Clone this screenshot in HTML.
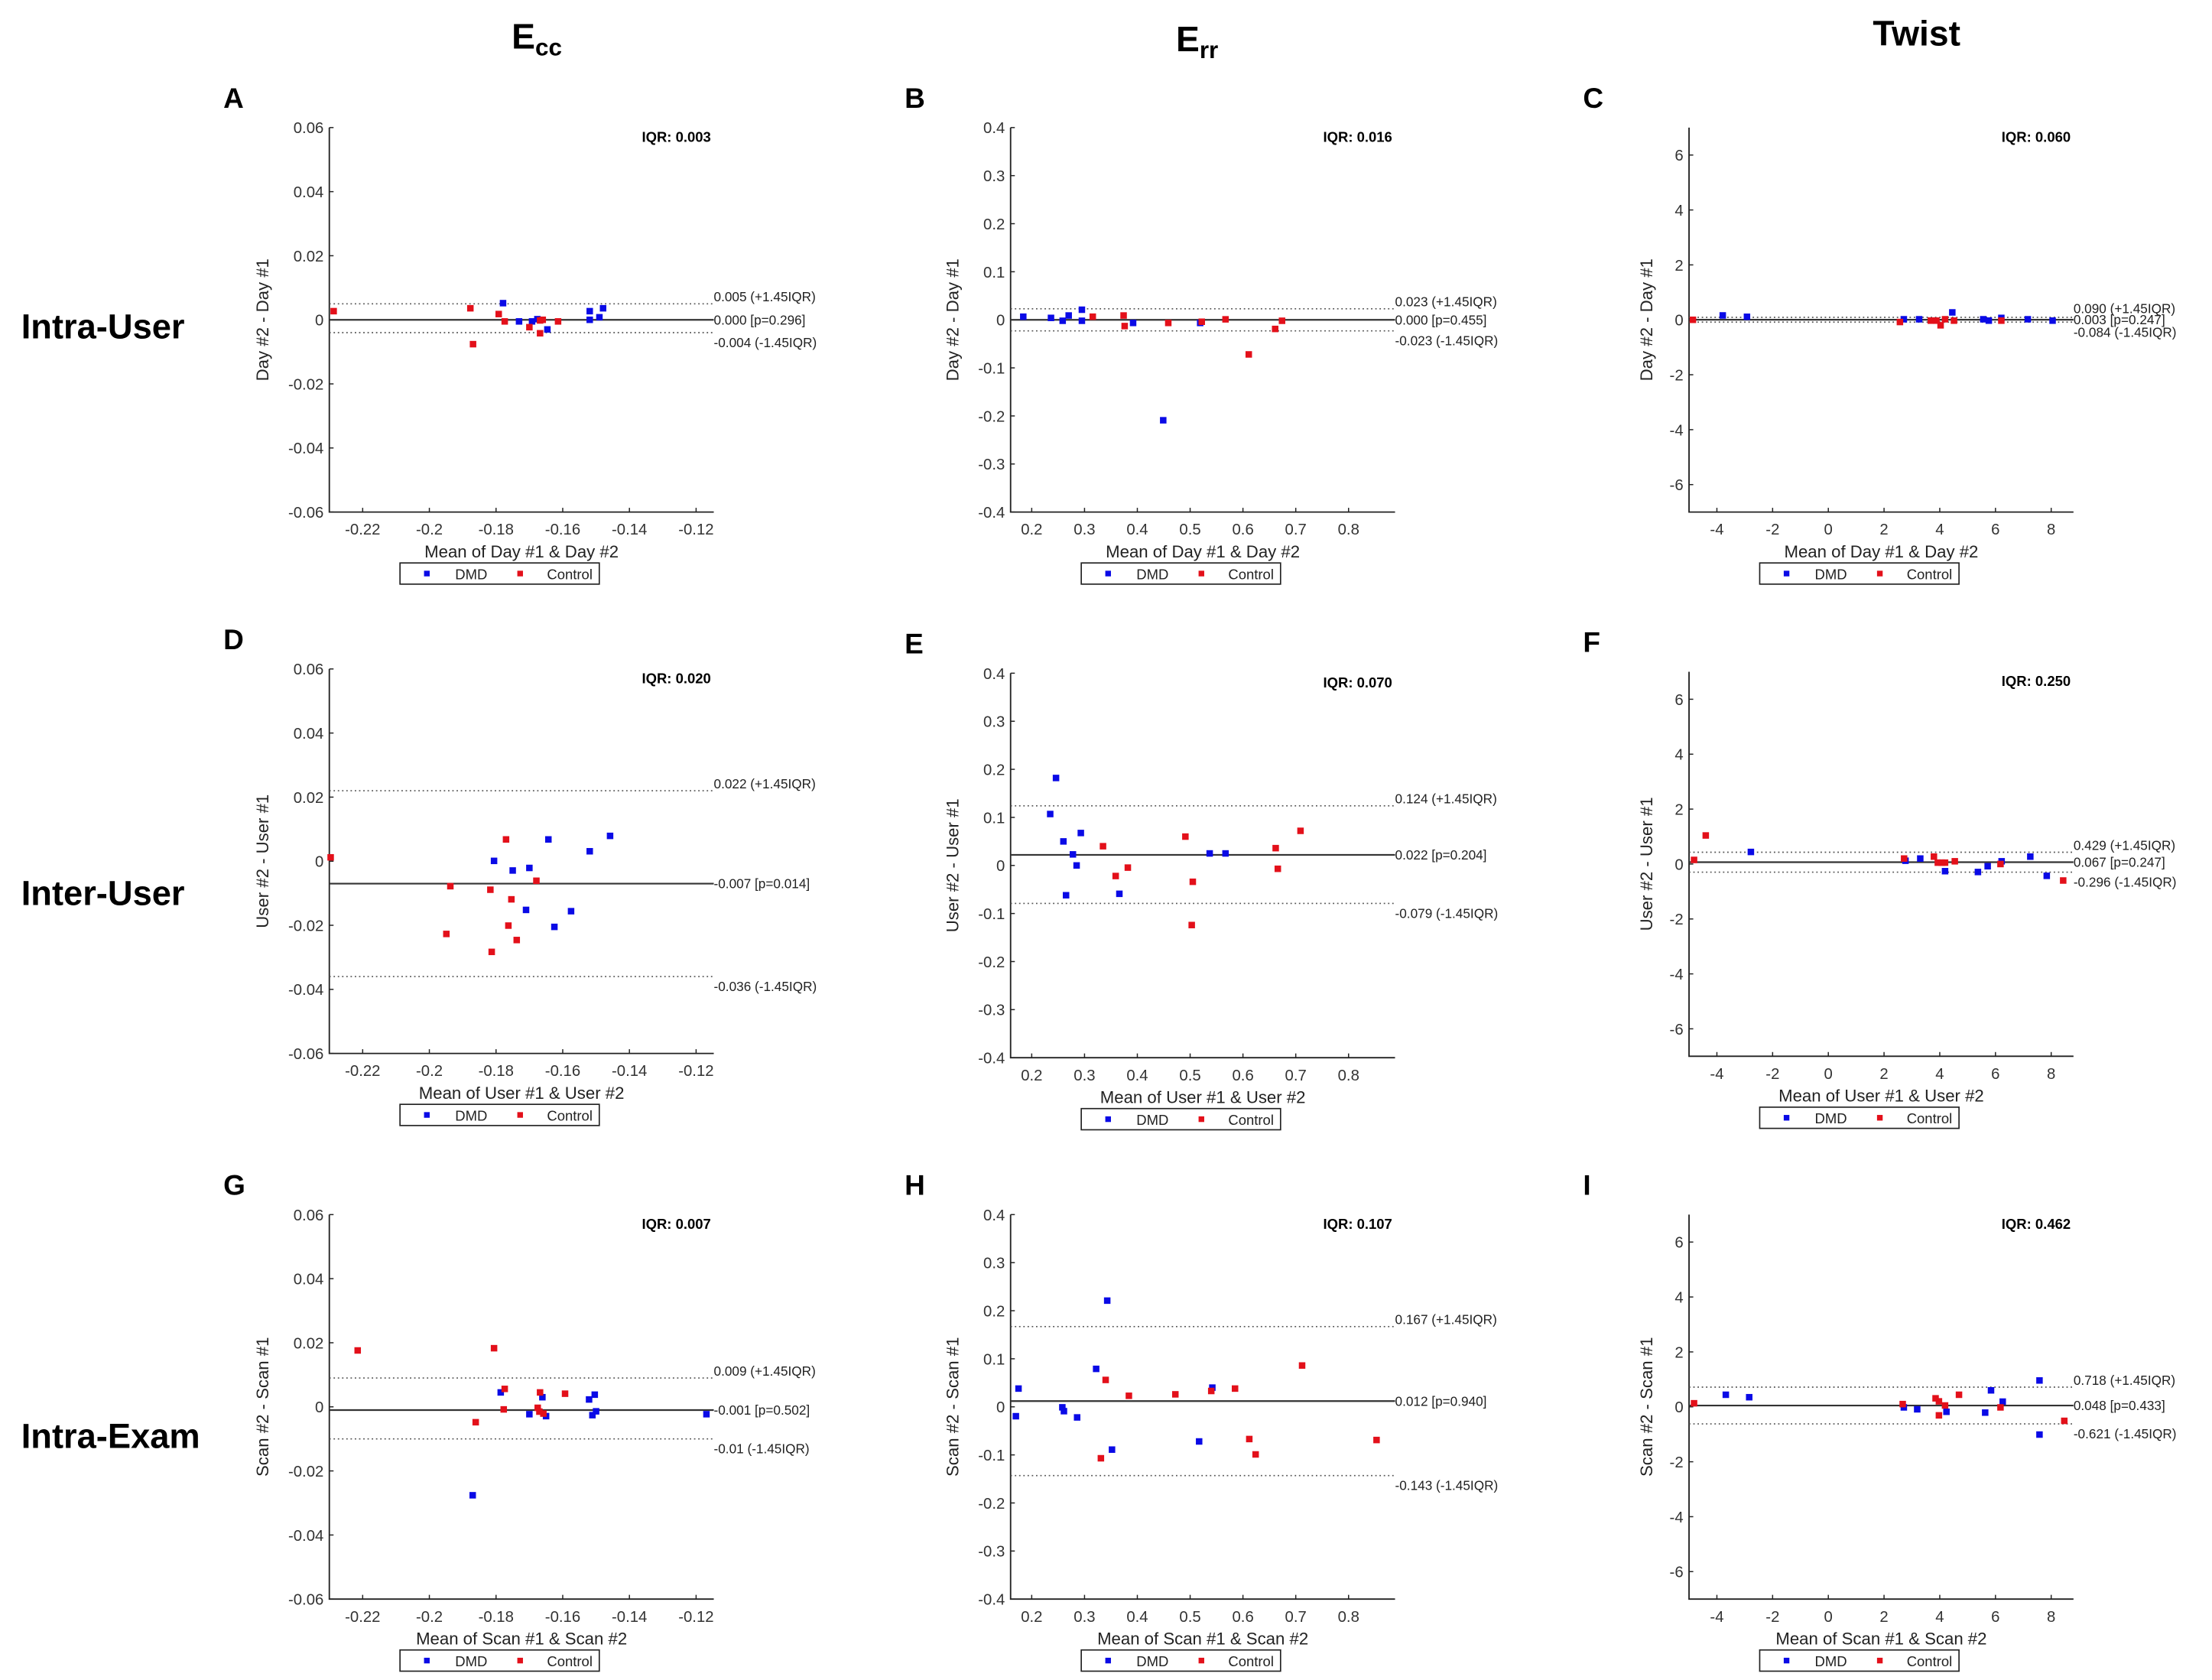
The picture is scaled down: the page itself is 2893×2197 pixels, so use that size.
<!DOCTYPE html>
<html><head><meta charset="utf-8"><style>
html,body{margin:0;padding:0;background:#fff}
svg{display:block}
text{font-family:"Liberation Sans",Arial,sans-serif}
</style></head><body>
<svg id="fig" xmlns="http://www.w3.org/2000/svg" width="2893" height="2197" viewBox="0 0 1565 1188">
<rect x="0" y="0" width="1565" height="1188" fill="#fff"/>
<g font-weight="bold" fill="#000">
<text x="362" y="34" font-size="25">E<tspan font-size="17" dy="5">cc</tspan></text>
<text x="832" y="36" font-size="25">E<tspan font-size="17" dy="5">rr</tspan></text>
<text x="1356" y="32" font-size="25" text-anchor="middle">Twist</text>
<text x="15" y="239" font-size="24.5">Intra-User</text>
<text x="15" y="640" font-size="24.5">Inter-User</text>
<text x="15" y="1024" font-size="24.5">Intra-Exam</text>
</g>
</svg>
<script>
// ---- data ----
const A_dmd_x=[-0.1779,-0.1731,-0.1692,-0.1676,-0.1646,-0.1519,-0.1519,-0.149,-0.1479];
const A_dmd_y=[0.0052,-0.0005,-0.0005,0.0002,-0.003,0.0027,0,0.0008,0.0036];
const A_ctl_x=[-0.2287,-0.1877,-0.1869,-0.1792,-0.1774,-0.17,-0.1668,-0.1668,-0.166,-0.1614];
const A_ctl_y=[0.0027,0.0036,-0.0076,0.0018,-0.0005,-0.0023,-0.0042,-0.0002,0,-0.0005];
const A_lines=[0.005,0,-0.004];
const A_labels=["0.005 (+1.45IQR)","0.000 [p=0.296]","-0.004 (-1.45IQR)"];

const B_dmd_x=[0.184,0.2365,0.2586,0.270,0.295,0.295,0.392,0.449,0.519];
const B_dmd_y=[0.0065,0.004,-0.002,0.009,0.021,-0.002,-0.0065,-0.209,-0.0065];
const B_ctl_x=[0.3156,0.374,0.376,0.4586,0.522,0.567,0.611,0.661,0.674];
const B_ctl_y=[0.0065,0.009,-0.013,-0.0065,-0.004,0.001,-0.072,-0.019,-0.002];
const B_lines=[0.023,0,-0.023];
const B_labels=["0.023 (+1.45IQR)","0.000 [p=0.455]","-0.023 (-1.45IQR)"];

const C_dmd_x=[-3.79,-2.92,2.71,3.26,4.45,5.56,5.76,6.21,7.16,8.05];
const C_dmd_y=[0.16,0.11,0.02,0.02,0.27,0.02,-0.03,0.07,0.02,-0.03];
const C_ctl_x=[-4.86,2.57,3.68,3.88,4.03,4.19,4.51,6.21];
const C_ctl_y=[0,-0.08,-0.03,-0.03,-0.2,0.02,-0.03,-0.03];
const C_lines=[0.090,0.003,-0.084];
const C_labels=["0.090 (+1.45IQR)","0.003 [p=0.247]","-0.084 (-1.45IQR)"];

const D_dmd_x=[-0.1643,-0.1458,-0.1519,-0.1806,-0.175,-0.17,-0.171,-0.1575,-0.1625];
const D_dmd_y=[0.0068,0.0079,0.0031,0.0001,-0.0029,-0.0021,-0.0152,-0.0156,-0.0205];
const D_ctl_x=[-0.2296,-0.177,-0.1679,-0.1937,-0.1817,-0.1754,-0.1763,-0.1949,-0.1738,-0.1813];
const D_ctl_y=[0.0012,0.0068,-0.0061,-0.0078,-0.0089,-0.0119,-0.0201,-0.0227,-0.0246,-0.0283];
const D_lines=[0.022,-0.007,-0.036];
const D_labels=["0.022 (+1.45IQR)","-0.007 [p=0.014]","-0.036 (-1.45IQR)"];

const E_dmd_x=[0.246,0.235,0.293,0.26,0.278,0.285,0.265,0.366,0.537,0.567];
const E_dmd_y=[0.182,0.107,0.0675,0.05,0.023,0,-0.062,-0.059,0.025,0.025];
const E_ctl_x=[0.335,0.359,0.382,0.491,0.505,0.503,0.662,0.666,0.709];
const E_ctl_y=[0.040,-0.022,-0.0045,0.06,-0.034,-0.124,0.036,-0.007,0.072];
const E_lines=[0.124,0.022,-0.079];
const E_labels=["0.124 (+1.45IQR)","0.022 [p=0.204]","-0.079 (-1.45IQR)"];

const F_dmd_x=[-2.78,2.77,3.30,4.19,5.37,5.72,6.22,7.25,7.84];
const F_dmd_y=[0.44,0.12,0.2,-0.26,-0.29,-0.08,0.1,0.27,-0.43];
const F_ctl_x=[-4.82,-4.40,2.72,3.79,3.93,4.07,4.19,4.54,6.18,8.43];
const F_ctl_y=[0.15,1.04,0.2,0.27,0.05,0.05,0.05,0.1,0,-0.6];
const F_lines=[0.429,0.067,-0.296];
const F_labels=["0.429 (+1.45IQR)","0.067 [p=0.247]","-0.296 (-1.45IQR)"];

const G_dmd_x=[-0.1786,-0.187,-0.17,-0.165,-0.1661,-0.1521,-0.1504,-0.15,-0.1511,-0.1169];
const G_dmd_y=[0.0045,-0.0276,-0.0023,-0.0029,0.003,0.0023,0.0038,-0.0014,-0.0026,-0.0023];
const G_ctl_x=[-0.2215,-0.1806,-0.1774,-0.1777,-0.1861,-0.1675,-0.167,-0.1658,-0.1668,-0.1593];
const G_ctl_y=[0.0176,0.0183,0.0056,-0.0008,-0.0048,-0.0003,-0.0015,-0.0021,0.0045,0.0041];
const G_lines=[0.009,-0.001,-0.01];
const G_labels=["0.009 (+1.45IQR)","-0.001 [p=0.502]","-0.01 (-1.45IQR)"];

const H_dmd_x=[0.175,0.170,0.258,0.261,0.286,0.322,0.343,0.352,0.517,0.542];
const H_dmd_y=[0.038,-0.0195,-0.001,-0.009,-0.022,0.079,0.221,-0.089,-0.072,0.040];
const H_ctl_x=[0.340,0.331,0.384,0.472,0.540,0.585,0.612,0.624,0.712,0.853];
const H_ctl_y=[0.056,-0.107,0.023,0.026,0.033,0.038,-0.067,-0.099,0.086,-0.069];
const H_lines=[0.167,0.012,-0.143];
const H_labels=["0.167 (+1.45IQR)","0.012 [p=0.940]","-0.143 (-1.45IQR)"];

const I_dmd_x=[-3.68,-2.84,2.71,3.19,4.24,5.63,5.84,6.26,7.58,7.58];
const I_dmd_y=[0.44,0.35,-0.02,-0.09,-0.18,-0.21,0.6,0.19,0.96,-1.01];
const I_ctl_x=[-4.82,2.67,3.85,3.97,3.97,4.19,4.69,6.18,8.47];
const I_ctl_y=[0.13,0.1,0.31,0.2,-0.31,0.05,0.44,-0.02,-0.51];
const I_lines=[0.718,0.048,-0.621];
const I_labels=["0.718 (+1.45IQR)","0.048 [p=0.433]","-0.621 (-1.45IQR)"];

const IQR_values=["IQR: 0.003","IQR: 0.016","IQR: 0.060","IQR: 0.020","IQR: 0.070","IQR: 0.250","IQR: 0.007","IQR: 0.107","IQR: 0.462"];

const ecc_xticks=[-0.22,-0.2,-0.18,-0.16,-0.14,-0.12];
const ecc_xtick_labels=["-0.22","-0.2","-0.18","-0.16","-0.14","-0.12"];
const ecc_yticks=[0.06,0.04,0.02,0,-0.02,-0.04,-0.06];
const ecc_ytick_labels=["0.06","0.04","0.02","0","-0.02","-0.04","-0.06"];
const err_xticks=[0.2,0.3,0.4,0.5,0.6,0.7,0.8];
const err_xtick_labels=["0.2","0.3","0.4","0.5","0.6","0.7","0.8"];
const err_yticks=[0.4,0.3,0.2,0.1,0,-0.1,-0.2,-0.3,-0.4];
const err_ytick_labels=["0.4","0.3","0.2","0.1","0","-0.1","-0.2","-0.3","-0.4"];
const tw_xticks=[-4,-2,0,2,4,6,8];
const tw_xtick_labels=["-4","-2","0","2","4","6","8"];
const tw_yticks=[6,4,2,0,-2,-4,-6];
const tw_ytick_labels=["6","4","2","0","-2","-4","-6"];

// ---- layout ----
const NS="http://www.w3.org/2000/svg";
const svg=document.getElementById('fig');
function el(tag,attrs,parent){const e=document.createElementNS(NS,tag);for(const k in attrs)e.setAttribute(k,attrs[k]);(parent||svg).appendChild(e);return e;}

const cols=[
 {left:233,xlim:[-0.23,-0.1147],ylim:[-0.06,0.06],xt:ecc_xticks,xtl:ecc_xtick_labels,yt:ecc_yticks,ytl:ecc_ytick_labels,ylo:43},
 {left:715,xlim:[0.16,0.888],ylim:[-0.4,0.4],xt:err_xticks,xtl:err_xtick_labels,yt:err_yticks,ytl:err_ytick_labels,ylo:37},
 {left:1195,xlim:[-5,8.8],ylim:[-7,7],xt:tw_xticks,xtl:tw_xtick_labels,yt:tw_yticks,ytl:tw_ytick_labels,ylo:26}
];
const rowInfo=[
 {tops:[90,90,90],xl:"Mean of Day #1 & Day #2",yl:"Day #2 - Day #1"},
 {tops:[473,476,475],xl:"Mean of User #1 & User #2",yl:"User #2 - User #1"},
 {tops:[859,859,859],xl:"Mean of Scan #1 & Scan #2",yl:"Scan #2 - Scan #1"}
];
const panels=[
 ["A",A_dmd_x,A_dmd_y,A_ctl_x,A_ctl_y,A_lines,A_labels],
 ["B",B_dmd_x,B_dmd_y,B_ctl_x,B_ctl_y,B_lines,B_labels],
 ["C",C_dmd_x,C_dmd_y,C_ctl_x,C_ctl_y,C_lines,C_labels],
 ["D",D_dmd_x,D_dmd_y,D_ctl_x,D_ctl_y,D_lines,D_labels],
 ["E",E_dmd_x,E_dmd_y,E_ctl_x,E_ctl_y,E_lines,E_labels],
 ["F",F_dmd_x,F_dmd_y,F_ctl_x,F_ctl_y,F_lines,F_labels],
 ["G",G_dmd_x,G_dmd_y,G_ctl_x,G_ctl_y,G_lines,G_labels],
 ["H",H_dmd_x,H_dmd_y,H_ctl_x,H_ctl_y,H_lines,H_labels],
 ["I",I_dmd_x,I_dmd_y,I_ctl_x,I_ctl_y,I_lines,I_labels]
];
const W=272,Hh=272,MS=4.6;
const BLUE="#0a0ae6",RED="#e3101a";

panels.forEach((p,idx)=>{
 const r=Math.floor(idx/3),c=idx%3;
 const col=cols[c],row=rowInfo[r];
 const L=col.left,T=row.tops[c],R=L+W,B=T+Hh;
 const sx=v=>L+(v-col.xlim[0])/(col.xlim[1]-col.xlim[0])*W;
 const sy=v=>B-(v-col.ylim[0])/(col.ylim[1]-col.ylim[0])*Hh;
 const g=el('g',{});
 
 

 const letter=el('text',{x:L-75,y:T-14,'font-size':20,'font-weight':'bold'},g);
 letter.textContent=p[0];
 
 

 const ax=el('path',{d:`M${L},${T}V${B}H${R}`,stroke:'#222',fill:'none','stroke-width':1},g);
 
 
 col.yt.forEach((v,i)=>{
  const y=sy(v);
  const tk=el('line',{x1:L,x2:L+3,y1:y,y2:y,stroke:'#222','stroke-width':0.8},g);
  
  
  const t=el('text',{x:L-4,y:y+4,'font-size':11,'text-anchor':'end',fill:'#333'},g);
  t.textContent=col.ytl[i];
  
  
 });
 col.xt.forEach((v,i)=>{
  const x=sx(v);
  const tk=el('line',{x1:x,x2:x,y1:B,y2:B-3,stroke:'#222','stroke-width':0.8},g);
  
  
  const t=el('text',{x:x,y:B+16,'font-size':11,'text-anchor':'middle',fill:'#333'},g);
  t.textContent=col.xtl[i];
  
  
 });
 const xl=el('text',{x:L+W/2,y:B+32,'font-size':12,'text-anchor':'middle',fill:'#222'},g);
 xl.textContent=row.xl;
 
 
 const yx=L-col.ylo,yy=T+Hh/2;
 const yl=el('text',{x:yx,y:yy,'font-size':12,'text-anchor':'middle',fill:'#222',transform:`rotate(-90 ${yx} ${yy})`},g);
 yl.textContent=row.yl;
 
 

 const iqr=el('text',{x:R-2,y:T+10,'font-size':10,'font-weight':'bold','text-anchor':'end',fill:'#000'},g);
 iqr.textContent=IQR_values[idx];
 
 

 const lines=p[5],labels=p[6];
 const yU=sy(lines[0]),yM=sy(lines[1]),yLo=sy(lines[2]);
 [yU,yLo].forEach((y,k)=>{
  const ln=el('line',{x1:L,x2:R,y1:y,y2:y,stroke:'#555','stroke-width':0.9,'stroke-dasharray':'1 2'},g);
  
  
 });
 const ml=el('line',{x1:L,x2:R,y1:yM,y2:yM,stroke:'#333','stroke-width':1.2},g);
 
 
 const lyU=Math.min(yU-5,yM-8),lyL=Math.max(yLo+7,yM+8);
 [[lyU,labels[0],'upper-limit-label'],[yM,labels[1],'mean-label'],[lyL,labels[2],'lower-limit-label']].forEach(a=>{
  const t=el('text',{x:R,y:a[0]+3.3,'font-size':9.3,fill:'#222'},g);
  t.textContent=a[1];
  
  
 });

 p[1].forEach((xv,i)=>{
  const m=el('rect',{x:sx(xv)-MS/2,y:sy(p[2][i])-MS/2,width:MS,height:MS,fill:BLUE},g);
  
  
 });
 p[3].forEach((xv,i)=>{
  const m=el('rect',{x:sx(xv)-MS/2,y:sy(p[4][i])-MS/2,width:MS,height:MS,fill:RED},g);
  
  
 });

 const lx=L+50,ly=B+36;
 const lg=el('g',{},g);
 
 
 el('rect',{x:lx,y:ly,width:141,height:15,fill:'#fff',stroke:'#222','stroke-width':0.9},lg);
 const m1=el('rect',{x:lx+17,y:ly+5.5,width:4,height:4,fill:BLUE},lg);
 
 
 const t1=el('text',{x:lx+39,y:ly+11.5,'font-size':10,fill:'#222'},lg);
 t1.textContent='DMD';
 
 
 const m2=el('rect',{x:lx+83,y:ly+5.5,width:4,height:4,fill:RED},lg);
 
 
 const t2=el('text',{x:lx+104,y:ly+11.5,'font-size':10,fill:'#222'},lg);
 t2.textContent='Control';
 
 
});
</script>
</body></html>
